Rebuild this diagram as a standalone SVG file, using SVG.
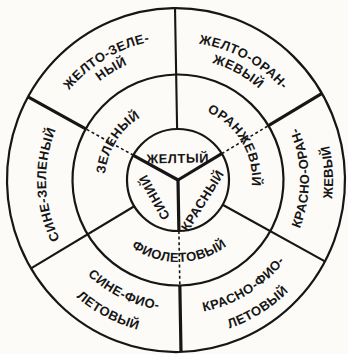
<svg xmlns="http://www.w3.org/2000/svg" xmlns:xlink="http://www.w3.org/1999/xlink" width="348" height="354" viewBox="0 0 348 354">
<style>
.ring{fill:none;stroke:#161616;stroke-width:2.2}
.thick{stroke:#161616;stroke-width:3.2;stroke-linecap:butt}
.thin{stroke:#161616;stroke-width:2.1}
.dash{stroke:#161616;stroke-width:1.6;stroke-dasharray:3 2.6}
text{font-family:"Liberation Sans",Arial,sans-serif;font-weight:bold;font-size:13px;fill:#161616;letter-spacing:0.5px}
.c{text-anchor:middle}
</style>
<defs>
<path id="p1" d="M36,180 A141,141 0 0 1 247.5,57.89"/>
<path id="p1b" d="M51,180 A126,126 0 0 1 240,70.88"/>
<path id="p2" d="M108,60.49 A138,138 0 0 1 315,180"/>
<path id="p2b" d="M116,74.35 A122,122 0 0 1 299,180"/>
<path id="p3" d="M242.5,293.45 A131,131 0 0 0 242.5,66.55"/>
<path id="p3b" d="M259.13,311.45 A155,155 0 0 0 249.77,43.14"/>
<path id="p4" d="M112.04,297.2 A134,134 0 0 0 310.98,177.66"/>
<path id="p4b" d="M100.89,317.31 A157,157 0 0 0 333.98,177.26"/>
<path id="p5" d="M46.18,186.86 A131,131 0 0 0 248.35,289.87"/>
<path id="p5b" d="M22.02,182.71 A155,155 0 0 0 256.83,312.86"/>
<path id="p6" d="M113,295.45 A132,132 0 0 1 109.02,66.85"/>
<path id="p7" d="M111.96,213.14 A73,73 0 0 1 180.82,107.1"/>
<path id="p8" d="M177,106 A74,74 0 0 1 241.09,217"/>
<path id="p9" d="M105.99,221 A82,82 0 0 0 248.01,221"/>
</defs>
<rect width="348" height="354" fill="#fcfbf8"/>
<g transform="rotate(-1,178,180)">
<g id="rings">
<ellipse class="ring" cx="176" cy="180" rx="169" ry="172"/>
<circle class="ring" cx="178" cy="180" r="105.5"/>
<circle class="ring" cx="178" cy="180" r="51"/>
</g>
<g id="connectors">
<line class="thick" x1="178" y1="180" x2="133.83" y2="154.5"/>
<line class="thick" x1="178" y1="180" x2="222.17" y2="154.5"/>
<line class="thick" x1="178" y1="180" x2="178" y2="231"/>
<line class="dash" x1="133.83" y1="154.5" x2="86.63" y2="127.25"/>
<line class="dash" x1="222.17" y1="154.5" x2="269.37" y2="127.25"/>
<line class="dash" x1="178" y1="231" x2="178" y2="285.5"/>
<line class="thick" x1="86.63" y1="127.25" x2="29.48" y2="94.25"/>
<line class="thick" x1="269.37" y1="127.25" x2="323.49" y2="96"/>
<line class="thick" x1="178" y1="285.5" x2="178" y2="352"/>
<line class="thin" x1="178" y1="129" x2="178" y2="8"/>
<line class="thin" x1="222.17" y1="205.5" x2="323.49" y2="264"/>
<line class="thin" x1="133.83" y1="205.5" x2="29.48" y2="265.75"/>
</g>
<g transform="translate(1,0)">
<g id="yellow-green"><text class="c"><textPath href="#p1" xlink:href="#p1" startOffset="50%">ЖЕЛТО-ЗЕЛЕ-</textPath></text><text class="c"><textPath href="#p1b" xlink:href="#p1b" startOffset="50%">НЫЙ</textPath></text></g>
<g id="yellow-orange"><text class="c"><textPath href="#p2" xlink:href="#p2" startOffset="50%">ЖЕЛТО-ОРАН-</textPath></text><text class="c"><textPath href="#p2b" xlink:href="#p2b" startOffset="50%">ЖЕВЫЙ</textPath></text></g>
<g id="red-orange"><text class="c"><textPath href="#p3" xlink:href="#p3" startOffset="50%">КРАСНО-ОРАН-</textPath></text><text class="c"><textPath href="#p3b" xlink:href="#p3b" startOffset="50%">ЖЕВЫЙ</textPath></text></g>
<g id="red-violet"><text class="c"><textPath href="#p4" xlink:href="#p4" startOffset="50%">КРАСНО-ФИО-</textPath></text><text class="c"><textPath href="#p4b" xlink:href="#p4b" startOffset="50%">ЛЕТОВЫЙ</textPath></text></g>
<g id="blue-violet"><text class="c"><textPath href="#p5" xlink:href="#p5" startOffset="50%">СИНЕ-ФИО-</textPath></text><text class="c"><textPath href="#p5b" xlink:href="#p5b" startOffset="50%">ЛЕТОВЫЙ</textPath></text></g>
<g id="blue-green"><text class="c"><textPath href="#p6" xlink:href="#p6" startOffset="50%">СИНЕ-ЗЕЛЕНЫЙ</textPath></text></g>
<g id="green"><text class="c"><textPath href="#p7" xlink:href="#p7" startOffset="50%">ЗЕЛЕНЫЙ</textPath></text></g>
<g id="orange"><text class="c"><textPath href="#p8" xlink:href="#p8" startOffset="50%">ОРАНЖЕВЫЙ</textPath></text></g>
<g id="violet"><text class="c"><textPath href="#p9" xlink:href="#p9" startOffset="50%">ФИОЛЕТОВЫЙ</textPath></text></g>
</g>
<g id="yellow"><text class="c" x="178" y="163">ЖЕЛТЫЙ</text></g>
<g id="red"><text class="c" transform="translate(202,201) rotate(-57)" y="4.5">КРАСНЫЙ</text></g>
<g id="blue"><text class="c" transform="translate(154,197) rotate(-118)" y="4.5">СИНИЙ</text></g>
</g>
</svg>
